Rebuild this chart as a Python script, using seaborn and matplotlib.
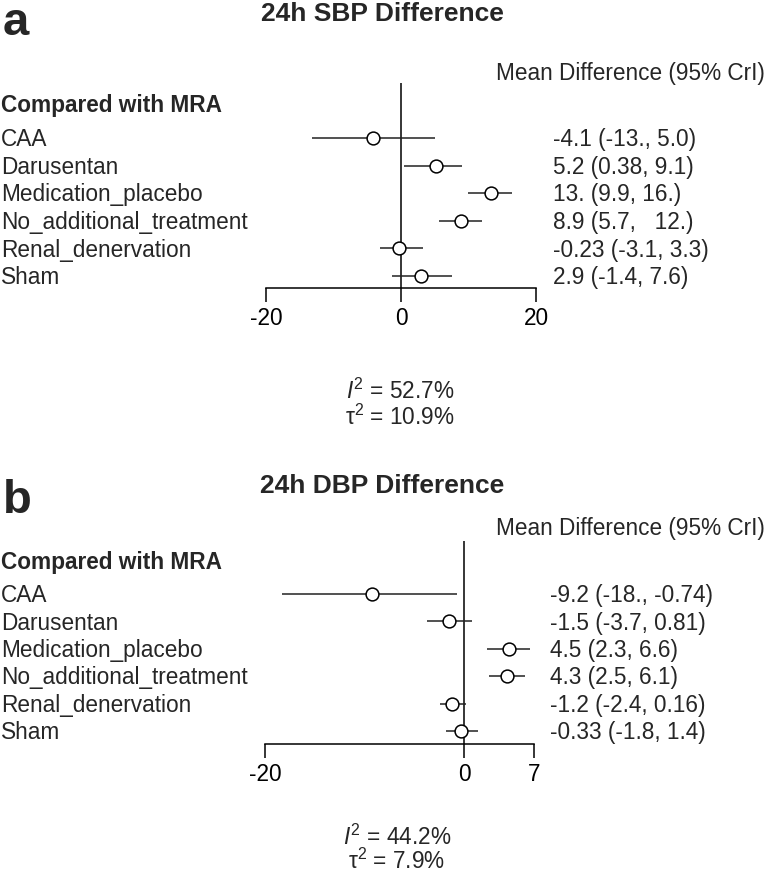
import numpy as np
import pandas as pd
import matplotlib
matplotlib.use("Agg")
import matplotlib.pyplot as plt
import matplotlib.transforms as mtransforms
import seaborn as sns

# data
treatments = ['CAA', 'Darusentan', 'Medication_placebo',
              'No_additional_treatment', 'Renal_denervation', 'Sham']

sbp_mean = [-4.1, 5.2, 13.4, 8.9, -0.23, 2.9]
sbp_lo = [-13.2, 0.38, 9.9, 5.7, -3.1, -1.4]
sbp_hi = [5.0, 9.1, 16.4, 12.0, 3.3, 7.6]
sbp_text = ['-4.1 (-13., 5.0)', '5.2 (0.38, 9.1)', '13. (9.9, 16.)',
            '8.9 (5.7,   12.)', '-0.23 (-3.1, 3.3)', '2.9 (-1.4, 7.6)']
sbp_ticks = [-20, 0, 20]
sbp_i2, sbp_tau2 = '52.7%', '10.9%'

dbp_mean = [-9.2, -1.5, 4.5, 4.3, -1.2, -0.33]
dbp_lo = [-18.3, -3.7, 2.3, 2.5, -2.4, -1.8]
dbp_hi = [-0.74, 0.81, 6.6, 6.1, 0.16, 1.4]
dbp_text = ['-9.2 (-18., -0.74)', '-1.5 (-3.7, 0.81)', '4.5 (2.3, 6.6)',
            '4.3 (2.5, 6.1)', '-1.2 (-2.4, 0.16)', '-0.33 (-1.8, 1.4)']
dbp_ticks = [-20, 0, 7]
dbp_i2, dbp_tau2 = '44.2%', '7.9%'

sns.set_style('ticks')
plt.rcParams['font.family'] = ['Liberation Sans', 'DejaVu Sans']
plt.rcParams['mathtext.fontset'] = 'custom'
plt.rcParams['mathtext.rm'] = 'Liberation Sans'
plt.rcParams['mathtext.it'] = 'Liberation Sans:italic'
plt.rcParams['axes.edgecolor'] = 'black'
plt.rcParams['xtick.color'] = 'black'

W, H = 767, 876
fig = plt.figure(figsize=(W / 100, H / 100), dpi=100)

def fx(x):
    return x / W

def fy(y):
    return 1 - y / H

FS = 16.3

panels = [
    dict(letter='a', title='24h SBP Difference', mean=sbp_mean, lo=sbp_lo, hi=sbp_hi,
         text=sbp_text, ticks=sbp_ticks, i2=sbp_i2, tau2=sbp_tau2,
         box=(266, 536, 83, 288), rows=(138, 276), stat_x=400, num_x=553,
         letter_y=35, title_y=21, head_y=80, comp_y=112, stat_y=(399, 425)),
    dict(letter='b', title='24h DBP Difference', mean=dbp_mean, lo=dbp_lo, hi=dbp_hi,
         text=dbp_text, ticks=dbp_ticks, i2=dbp_i2, tau2=dbp_tau2,
         box=(265, 533.7, 541, 744), rows=(594, 731), stat_x=397, num_x=550,
         letter_y=513, title_y=493, head_y=535, comp_y=569, stat_y=(845, 869)),
]

for p in panels:
    left, right, top, bottom = p['box']
    ax = fig.add_axes([fx(left), fy(bottom), (right - left) / W, (bottom - top) / H])
    df = pd.DataFrame({'treatment': treatments, 'mean': p['mean'],
                       'lo': p['lo'], 'hi': p['hi'],
                       'pos': np.arange(len(treatments), 0, -1)})

    ax.axvline(0, color='black', lw=1.1, zorder=1)
    ax.hlines(df['pos'], df['lo'], df['hi'], color='#222222', lw=1.1, zorder=2, clip_on=False)
    sns.scatterplot(data=df, x='mean', y='pos', ax=ax, s=85, color='white',
                    edgecolor='black', linewidth=1.1, zorder=3, clip_on=False)

    # map the pixel frame onto row units
    r0, r1 = p['rows']
    step = (r1 - r0) / (len(treatments) - 1)
    ax.set_ylim(1 - (bottom - r1) / step, len(treatments) + (r0 - top) / step)
    ax.set_xlim(p['ticks'][0], p['ticks'][-1])
    ax.set_xticks(p['ticks'])
    ax.set_xticklabels([str(t) for t in p['ticks']])
    ax.set_yticks([])
    ax.set_xlabel('')
    ax.set_ylabel('')
    sns.despine(ax=ax, left=True)
    ax.spines['bottom'].set_linewidth(1.1)
    ax.tick_params(axis='x', length=10, width=1.1, pad=4, labelsize=FS, direction='out')

    # row labels and interval texts, tied to the row positions
    row_tr = mtransforms.blended_transform_factory(fig.transFigure, ax.transData)
    row_tr = mtransforms.offset_copy(row_tr, fig=fig, y=-0.36 * FS, units='points')
    for name, txt, pos in zip(df['treatment'], p['text'], df['pos']):
        fig.text(fx(1), pos, name, transform=row_tr, ha='left', va='baseline', fontsize=FS)
        fig.text(fx(p['num_x']), pos, txt, transform=row_tr, ha='left', va='baseline', fontsize=FS)

    fig.text(fx(3), fy(p['letter_y']), p['letter'], ha='left', va='baseline',
             fontsize=34, fontweight='bold')
    fig.text(fx(382), fy(p['title_y']), p['title'], ha='center', va='baseline',
             fontsize=19, fontweight='bold')
    fig.text(fx(765), fy(p['head_y']), 'Mean Difference (95% CrI)', ha='right',
             va='baseline', fontsize=FS)
    fig.text(fx(1), fy(p['comp_y']), 'Compared with MRA', ha='left', va='baseline',
             fontsize=FS, fontweight='bold')
    fig.text(fx(p['stat_x']), fy(p['stat_y'][0]), r'$I^{2}$' + ' = ' + p['i2'],
             ha='center', va='baseline', fontsize=FS)
    fig.text(fx(p['stat_x']), fy(p['stat_y'][1]), r'$\mathrm{\tau}^{2}$' + ' = ' + p['tau2'],
             ha='center', va='baseline', fontsize=FS)

fig.savefig('out.png', dpi=100)
